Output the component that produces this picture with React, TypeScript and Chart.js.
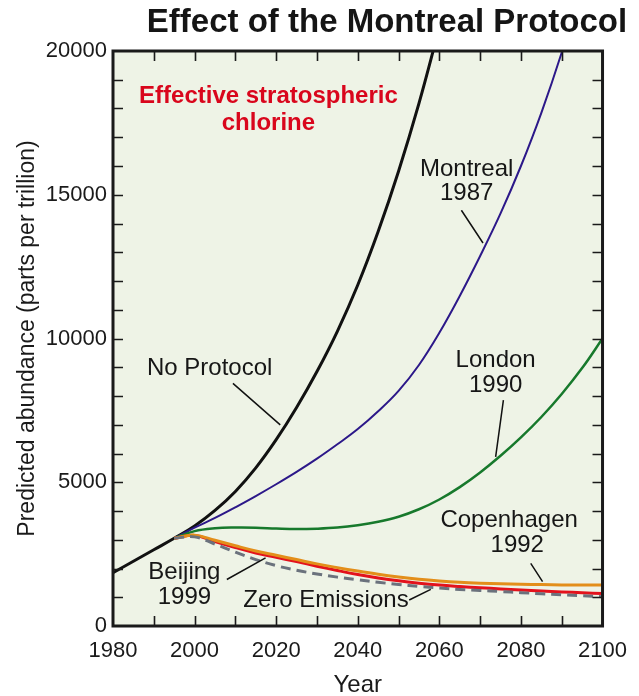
import React, { useEffect, useRef } from "react";
import { Chart, registerables } from "chart.js";

Chart.register(...registerables);

// ---------- data ----------
const years = [
  1980, 1985, 1990, 1995, 2000, 2005, 2010, 2015, 2020, 2025, 2030, 2035, 2040,
  2045, 2050, 2055, 2060, 2065, 2070, 2075, 2080, 2085, 2090, 2095, 2100,
];

const noProtocol = [
  1850, 2250, 2650, 3050, 3480, 4020, 4680, 5500, 6480, 7600, 8850, 10250, 11860,
  13720, 15820, 18180, 20820, null, null, null, null, null, null, null, null,
];
const montreal1987 = [
  null, null, null, 3050, 3420, 3760, 4130, 4520, 4930, 5360, 5820, 6320, 6850,
  7470, 8180, 9080, 10200, 11480, 12870, 14350, 16000, 17850, 19950, 22300, null,
];
const london1990 = [
  null, null, null, 3050, 3300, 3400, 3425, 3420, 3390, 3370, 3385, 3425, 3505,
  3625, 3800, 4060, 4400, 4830, 5340, 5920, 6560, 7270, 8070, 8970, 10000,
];
const copenhagen1992 = [
  null, null, null, 3050, 3160, 2980, 2790, 2610, 2460, 2310, 2160, 2030, 1910,
  1800, 1705, 1625, 1565, 1520, 1490, 1470, 1450, 1440, 1430, 1425, 1425,
];
const beijing1999 = [
  null, null, null, 3050, 3150, 2940, 2730, 2540, 2390, 2240, 2080, 1930, 1790,
  1670, 1570, 1490, 1425, 1375, 1330, 1290, 1250, 1215, 1185, 1155, 1130,
];
const zeroEmissions = [
  null, null, null, 3050, 3100, 2850, 2570, 2310, 2100, 1940, 1810, 1700, 1610,
  1520, 1445, 1375, 1320, 1270, 1235, 1200, 1160, 1120, 1085, 1050, 1020,
];

const xMin = 1980;
const xMax = 2100;
const xLabelStep = 20;
const xMinorStep = 10;
const yMin = 0;
const yMax = 20000;
const yLabelStep = 5000;
const yMinorStep = 1000;

const titleText = "Effect of the Montreal Protocol";
const xTitle = "Year";
const yTitle = "Predicted abundance (parts per trillion)";

// text labels anchored at (year, value)
const labelTexts = [
  "Effective stratospheric",
  "chlorine",
  "No Protocol",
  "Montreal",
  "1987",
  "London",
  "1990",
  "Copenhagen",
  "1992",
  "Beijing",
  "1999",
  "Zero Emissions",
];
const labelYears = [2018.1, 2018.1, 2003.7, 2066.7, 2066.7, 2073.8, 2073.8, 2077.1, 2079.1, 1997.5, 1997.5, 2032.2];
const labelValues = [18410, 17485, 8960, 15900, 15041, 9247, 8378, 3685, 2816, 1850, 983, 904];
const labelHighlight = [true, true, false, false, false, false, false, false, false, false, false, false];

// leader lines: start (year, value) -> end (year, value)
const leaderFromYears = [2009.4, 2065.4, 2075.7, 2082.4, 2007.9, 2052.6];
const leaderFromValues = [8439, 14460, 7856, 2178, 1618, 904];
const leaderToYears = [2021.0, 2070.7, 2073.8, 2085.3, 2017.4, 2057.9];
const leaderToValues = [6994, 13322, 5886, 1541, 2370, 1275];

// ---------- helpers ----------
const FONT = '"Liberation Sans", Arial, Helvetica, sans-serif';

function toPoints(values: (number | null)[]) {
  const pts: { x: number; y: number }[] = [];
  values.forEach((v, i) => {
    if (v !== null) pts.push({ x: years[i], y: v });
  });
  return pts;
}

const decorPlugin = {
  id: "decor",
  beforeDraw(chart: any) {
    const { ctx, chartArea } = chart;
    ctx.save();
    ctx.fillStyle = "#eef3e6";
    ctx.fillRect(chartArea.left, chartArea.top, chartArea.right - chartArea.left, chartArea.bottom - chartArea.top);
    ctx.restore();
  },
  afterDraw(chart: any) {
    const { ctx, chartArea } = chart;
    const xs = chart.scales.x;
    const ys = chart.scales.y;
    const { left, right, top, bottom } = chartArea;
    ctx.save();

    // inward ticks
    ctx.strokeStyle = "#1a1a1a";
    ctx.lineWidth = 1.6;
    const tl = 10;
    ctx.beginPath();
    for (let v = xMin + xMinorStep; v < xMax; v += xMinorStep) {
      const px = Math.round(xs.getPixelForValue(v)) + 0.5;
      ctx.moveTo(px, bottom);
      ctx.lineTo(px, bottom - tl);
      ctx.moveTo(px, top);
      ctx.lineTo(px, top + tl);
    }
    for (let v = yMin + yMinorStep; v < yMax; v += yMinorStep) {
      const py = Math.round(ys.getPixelForValue(v)) + 0.5;
      ctx.moveTo(left, py);
      ctx.lineTo(left + tl, py);
      ctx.moveTo(right, py);
      ctx.lineTo(right - tl, py);
    }
    ctx.stroke();

    // leader lines
    ctx.lineWidth = 1.5;
    ctx.strokeStyle = "#111";
    ctx.beginPath();
    for (let i = 0; i < leaderFromYears.length; i++) {
      ctx.moveTo(xs.getPixelForValue(leaderFromYears[i]), ys.getPixelForValue(leaderFromValues[i]));
      ctx.lineTo(xs.getPixelForValue(leaderToYears[i]), ys.getPixelForValue(leaderToValues[i]));
    }
    ctx.stroke();

    // labels
    ctx.textAlign = "center";
    ctx.textBaseline = "middle";
    for (let i = 0; i < labelTexts.length; i++) {
      const hl = labelHighlight[i];
      ctx.font = `${hl ? "bold " : ""}24px ${FONT}`;
      ctx.fillStyle = hl ? "#d9061c" : "#161616";
      ctx.fillText(labelTexts[i], xs.getPixelForValue(labelYears[i]), ys.getPixelForValue(labelValues[i]));
    }

    // frame
    ctx.lineWidth = 3;
    ctx.strokeStyle = "#1a1a1a";
    ctx.strokeRect(left, top, right - left, bottom - top);

    // title
    ctx.font = `bold 33px ${FONT}`;
    ctx.fillStyle = "#151515";
    ctx.textAlign = "center";
    ctx.textBaseline = "middle";
    ctx.fillText(titleText, 387, 23);
    ctx.restore();
  },
};

export default function App() {
  const ref = useRef<HTMLCanvasElement>(null);

  useEffect(() => {
    if (!ref.current) return;
    Chart.defaults.font.family = FONT;
    const common = { pointRadius: 0, fill: false, clip: 0, tension: 0.4, cubicInterpolationMode: "default" as const };
    const chart = new Chart(ref.current, {
      type: "line",
      data: {
        datasets: [
          { label: "Zero Emissions", data: toPoints(zeroEmissions), borderColor: "#6b727d", borderWidth: 3, borderDash: [10, 6], ...common },
          { label: "Copenhagen 1992", data: toPoints(copenhagen1992), borderColor: "#e38e1a", borderWidth: 3, ...common },
          { label: "Beijing 1999", data: toPoints(beijing1999), borderColor: "#e3121c", borderWidth: 3, ...common },
          { label: "London 1990", data: toPoints(london1990), borderColor: "#17792c", borderWidth: 2.5, ...common },
          { label: "Montreal 1987", data: toPoints(montreal1987), borderColor: "#2c1889", borderWidth: 2, ...common },
          { label: "No Protocol", data: toPoints(noProtocol), borderColor: "#111111", borderWidth: 3, ...common },
        ],
      },
      options: {
        responsive: false,
        animation: false,
        layout: { padding: { top: 51, right: 32, left: 0, bottom: 0 } },
        plugins: {
          legend: { display: false },
          tooltip: { enabled: false },
          title: { display: false },
        },
        scales: {
          x: {
            type: "linear",
            min: xMin,
            max: xMax,
            grid: { display: false, drawTicks: false },
            border: { display: false },
            ticks: {
              stepSize: xLabelStep,
              color: "#1a1a1a",
              font: { size: 22, family: FONT },
              padding: 12,
              maxRotation: 0,
              callback: (v: any) => String(v),
            },
            title: {
              display: true,
              text: xTitle,
              color: "#1a1a1a",
              font: { size: 24, family: FONT },
              padding: { top: 0, bottom: -4 },
            },
            afterFit: (s: any) => {
              s.height = 70;
            },
          },
          y: {
            min: yMin,
            max: yMax,
            grid: { display: false, drawTicks: false },
            border: { display: false },
            ticks: {
              stepSize: yLabelStep,
              color: "#1a1a1a",
              font: { size: 22, family: FONT },
              padding: 6,
              callback: (v: any) => String(v),
            },
            title: {
              display: true,
              text: yTitle,
              color: "#1a1a1a",
              font: { size: 23, family: FONT },
              padding: { top: 14, bottom: 0 },
            },
            afterFit: (s: any) => {
              s.width = 113;
            },
          },
        },
      },
      plugins: [decorPlugin],
    } as any);
    return () => chart.destroy();
  }, []);

  return (
    <div style={{ position: "absolute", left: 0, top: 0, width: 639, height: 696, background: "#ffffff" }}>
      <canvas ref={ref} width={639} height={696} style={{ display: "block", width: 639, height: 696 }} />
    </div>
  );
}
